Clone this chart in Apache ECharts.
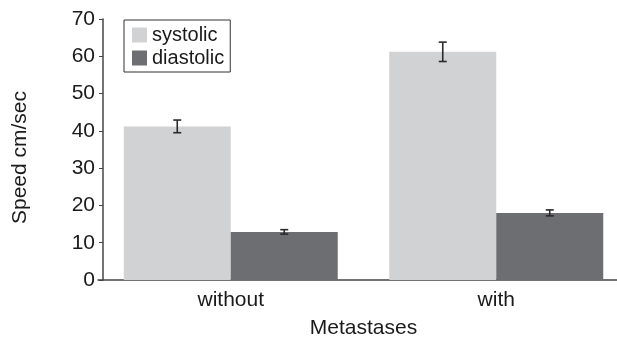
<!DOCTYPE html>
<html>
<head>
<meta charset="utf-8">
<script src="https://cdn.jsdelivr.net/npm/echarts@6/dist/echarts.min.js"></script>
<style>html,body{margin:0;padding:0;background:#fff}#c{width:617px;height:342px}</style>
</head>
<body>
<div id="c"></div>
<script>
var categories = ['without', 'with'];
var seriesNames = ['systolic', 'diastolic'];
var systolic = [41.2, 61.2];
var systolicErr = [1.7, 2.6];
var diastolic = [12.9, 18.0];
var diastolicErr = [0.6, 0.8];
var yTicks = [0, 10, 20, 30, 40, 50, 60, 70];

var colors = ['#d1d2d4', '#6d6e71'];
var BAR_FRAC = 0.403;
var FONT = 'Liberation Sans, Arial, sans-serif';

function errData(vals, errs) {
  return vals.map(function (v, i) { return [i, v - errs[i], v + errs[i]]; });
}
function errSeries(vals, errs, idx) {
  return {
    type: 'custom',
    silent: true,
    z: 10,
    data: errData(vals, errs),
    encode: { x: 0, y: [1, 2] },
    renderItem: function (params, api) {
      var band = api.size([1, 0])[0];
      var off = (idx === 0 ? -1 : 1) * band * BAR_FRAC / 2;
      var lo = api.coord([api.value(0), api.value(1)]);
      var hi = api.coord([api.value(0), api.value(2)]);
      var x = lo[0] + off;
      var cap = 4;
      var st = { stroke: '#2b2b2b', lineWidth: 1.6 };
      return {
        type: 'group',
        children: [
          { type: 'line', shape: { x1: x, y1: lo[1], x2: x, y2: hi[1] }, style: st },
          { type: 'line', shape: { x1: x - cap, y1: lo[1], x2: x + cap, y2: lo[1] }, style: st },
          { type: 'line', shape: { x1: x - cap, y1: hi[1], x2: x + cap, y2: hi[1] }, style: st }
        ]
      };
    }
  };
}

var chart = echarts.init(document.getElementById('c'), null, { renderer: 'canvas' });
chart.setOption({
  animation: false,
  textStyle: { fontFamily: FONT },
  grid: { left: 98, width: 531, top: 19, bottom: 62, containLabel: false, outerBoundsMode: 'none' },
  legend: {
    orient: 'vertical',
    left: 124,
    top: 20,
    padding: [5, 6, 4, 8],
    borderColor: '#333',
    borderWidth: 1,
    itemWidth: 15,
    itemHeight: 15,
    itemGap: 3,
    icon: 'rect',
    data: seriesNames,
    textStyle: { fontSize: 20, color: '#1a1a1a', fontFamily: FONT }
  },
  xAxis: {
    type: 'category',
    data: categories,
    name: 'Metastases',
    nameLocation: 'middle',
    nameGap: 38,
    nameTextStyle: { fontSize: 21, color: '#1a1a1a', fontFamily: FONT },
    axisLine: { lineStyle: { color: '#444', width: 1.5 } },
    axisTick: { show: false },
    axisLabel: { fontSize: 21, color: '#1a1a1a', margin: 10, fontFamily: FONT }
  },
  yAxis: {
    type: 'value',
    min: yTicks[0],
    max: yTicks[yTicks.length - 1],
    interval: 10,
    offset: -5,
    name: 'Speed cm/sec',
    nameLocation: 'middle',
    nameGap: 72,
    nameTextStyle: { fontSize: 21, color: '#1a1a1a', fontFamily: FONT, padding: [0, 16, 0, 0] },
    splitLine: { show: false },
    axisLine: { show: true, lineStyle: { color: '#444', width: 1.5 } },
    axisTick: { show: true, length: 4, lineStyle: { color: '#444' } },
    axisLabel: { fontSize: 21, color: '#1a1a1a', margin: 8, fontFamily: FONT }
  },
  series: [
    { name: seriesNames[0], type: 'bar', data: systolic, barWidth: (BAR_FRAC * 100) + '%', barGap: '0%', itemStyle: { color: colors[0] } },
    { name: seriesNames[1], type: 'bar', data: diastolic, barWidth: (BAR_FRAC * 100) + '%', barGap: '0%', itemStyle: { color: colors[1] } },
    errSeries(systolic, systolicErr, 0),
    errSeries(diastolic, diastolicErr, 1)
  ]
});
</script>
</body>
</html>
